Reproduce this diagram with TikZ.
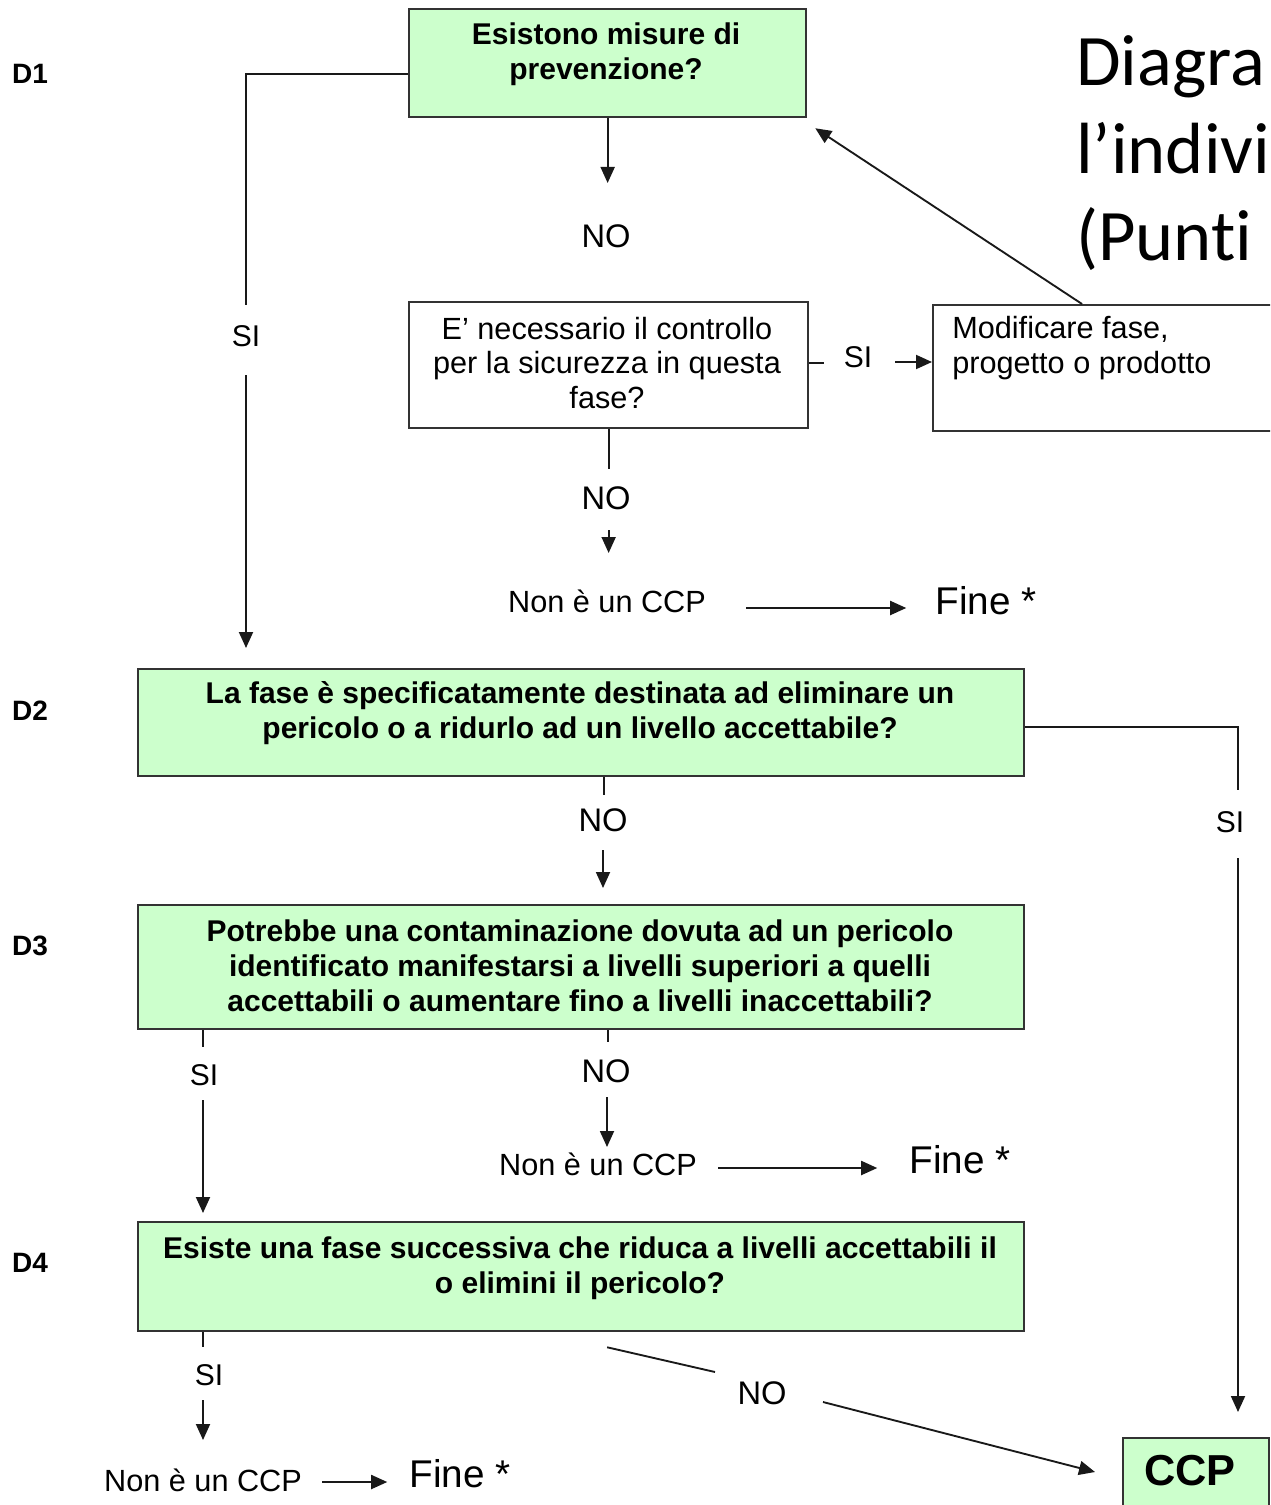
\documentclass[tikz,border=0pt]{standalone}
\usepackage{fontspec}
\setmainfont{Liberation Sans}
\newfontfamily\titlefont[Ligatures={NoCommon}]{Carlito}
\usetikzlibrary{arrows.meta,calc}
\definecolor{boxgreen}{HTML}{CCFFCC}
\newcommand\px[1]{#1*0.75pt}
\begin{document}
\begin{tikzpicture}[x=0.75pt,y=-0.75pt,
  ln/.style={line width=1.4pt, draw=black!90},
  arr/.style={ln, -{Triangle[length=12pt,width=10.5pt]}},
  gbox/.style={draw=black!80, line width=1.7pt, fill=boxgreen, anchor=north west, inner sep=0pt},
  wbox/.style={draw=black!80, line width=1.7pt, fill=white, anchor=north west, inner sep=0pt},
  btxt/.style={font=\fontsize{22.5}{26.25}\selectfont\bfseries, align=center, inner sep=0pt},
  rtxt/.style={font=\fontsize{23}{26}\selectfont, align=center, inner sep=0pt},
  notxt/.style={font=\fontsize{24.5}{26}\selectfont, inner sep=0pt},
  sitxt/.style={font=\fontsize{22.5}{26}\selectfont, inner sep=0pt},
  finetxt/.style={font=\fontsize{29}{30}\selectfont, inner sep=0pt},
  dlab/.style={font=\fontsize{21}{21}\selectfont\bfseries, inner sep=0pt},
  ccptxt/.style={font=\fontsize{32.5}{33}\selectfont\bfseries, inner sep=0pt},
  ttl/.style={font=\fontsize{54.4}{65}\titlefont, inner sep=0pt, anchor=base west}
]
\useasboundingbox (0,0) rectangle (1270,1505);
\fill[white] (0,0) rectangle (1270,1505);
\clip (0,0) rectangle (1270,1505);

% title (cropped)
\node[ttl] (t1) at (1076,86) {Diagra};
\node[ttl] (t2) at (1076,174) {l’indivi};
\node[ttl] (t3) at (1076,261) {(Punti};

% side labels
\node[dlab] (lab1) at (30,74) {D1};
\node[dlab] (lab2) at (30,711) {D2};
\node[dlab] (lab3) at (30,946) {D3};
\node[dlab] (lab4) at (30,1263) {D4};

% boxes
\node[gbox, minimum width=\px{397}, minimum height=\px{108}] (d1) at (408,8) {};
\node[btxt] (d1t) at (606,54) {Esistono misure di\\prevenzione?};

\node[wbox, minimum width=\px{399}, minimum height=\px{126}] (q2) at (408,301) {};
\node[rtxt] (q2t) at (607,363) {E' necessario il controllo\\per la sicurezza in questa\\fase?};

\node[wbox, minimum width=\px{380}, minimum height=\px{126}] (mod) at (932,304) {};
\node[rtxt, align=left, anchor=west] (modt) at (952,348) {Modificare fase,\\progetto o prodotto};

\node[gbox, minimum width=\px{886}, minimum height=\px{107}] (d2) at (137,668) {};
\node[btxt] (d2t) at (580,713) {La fase è specificatamente destinata ad eliminare un\\pericolo o a ridurlo ad un livello accettabile?};

\node[gbox, minimum width=\px{886}, minimum height=\px{124}] (d3) at (137,904) {};
\node[btxt] (d3t) at (580,966) {Potrebbe una contaminazione dovuta ad un pericolo\\identificato manifestarsi a livelli superiori a quelli\\accettabili o aumentare fino a livelli inaccettabili?};

\node[gbox, minimum width=\px{886}, minimum height=\px{109}] (d4) at (137,1221) {};
\node[btxt] (d4t) at (580,1268) {Esiste una fase successiva che riduca a livelli accettabili il\\o elimini il pericolo?};

\node[gbox, minimum width=\px{146}, minimum height=\px{95}] (ccp) at (1122,1437) {};
\node[ccptxt] (ccpt) at (1190,1471) {CCP};

% labels on connectors
\node[sitxt] (siA) at (246,336) {SI};
\node[notxt] (noA) at (606,236) {NO};
\node[sitxt] (siB) at (858,357) {SI};
\node[notxt] (noB) at (606,498) {NO};
\node[rtxt] (nonA) at (607,601) {Non è un CCP};
\node[finetxt] (fineA) at (986,601) {Fine *};
\node[sitxt] (siC) at (1230,822) {SI};
\node[notxt] (noC) at (603,820) {NO};
\node[sitxt] (siD) at (204,1075) {SI};
\node[notxt] (noD) at (606,1071) {NO};
\node[rtxt] (nonB) at (598,1164) {Non è un CCP};
\node[finetxt] (fineB) at (960,1160) {Fine *};
\node[sitxt] (siE) at (209,1375) {SI};
\node[rtxt] (nonC) at (203,1480) {Non è un CCP};
\node[finetxt] (fineC) at (460,1474) {Fine *};
\node[notxt] (noE) at (762,1393) {NO};

% connectors
\draw[ln] ($(d1.west)+(0,11)$) -| ($(siA)+(0,-31)$);
\draw[arr] ($(siA)+(0,39)$) -- ($(d2.north west)+(109,-20)$);
\draw[arr] (d1.south) -- ($(d1.south |- noA)+(0,-53)$);
\draw[arr] ($(mod.north west)+(150,0)$) -- ($(d1.south east)+(8,10)$);

\draw[ln] ($(q2.east)+(0,-2)$) -- ++(15,0);
\draw[arr] ($(siB.east)+(23,5)$) -- ($(mod.north west)+(0,58)$);
\draw[ln] (q2.south) -- ++(0,40);
\draw[arr] ($(q2.south |- noB)+(0,32)$) -- ($(q2.south |- nonA)+(0,-48)$);
\draw[arr] ($(nonA.east)+(40,7)$) -- ($(fineA.west)+(-29,7)$);

\draw[ln] ($(d2.east)+(0,4)$) -| ($(siC)+(8,-32)$);
\draw[arr] ($(siC)+(8,36)$) -- ($(ccp.north west)+(116,-25)$);
\draw[ln] ($(d2.south)+(23,0)$) -- ++(0,18);
\draw[arr] ($(noC)+(0,30)$) -- ($(noC |- d3.north)+(0,-16)$);

\draw[ln] ($(d3.south west)+(66,0)$) -- ++(0,17);
\draw[arr] ($(siD)+(-1,25)$) -- ($(d4.north west)+(66,-8)$);
\draw[ln] ($(d3.south)+(27,0)$) -- ++(0,12);
\draw[arr] ($(noD)+(1,26)$) -- ($(nonB)+(9,-17)$);
\draw[arr] ($(nonB.east)+(21,4)$) -- ($(fineB.west)+(-32,8)$);

\draw[ln] ($(d4.south west)+(66,0)$) -- ++(0,15);
\draw[arr] ($(siE)+(-6,25)$) -- ($(nonC)+(0,-40)$);
\draw[arr] ($(nonC.east)+(20,2)$) -- ($(fineC.west)+(-22,8)$);
\draw[ln] ($(d4.south)+(26,15)$) -- ($(noE)+(-47,-21)$);
\draw[arr] ($(noE)+(61,9)$) -- ($(ccp.north west)+(-27,35)$);
\end{tikzpicture}
\end{document}
